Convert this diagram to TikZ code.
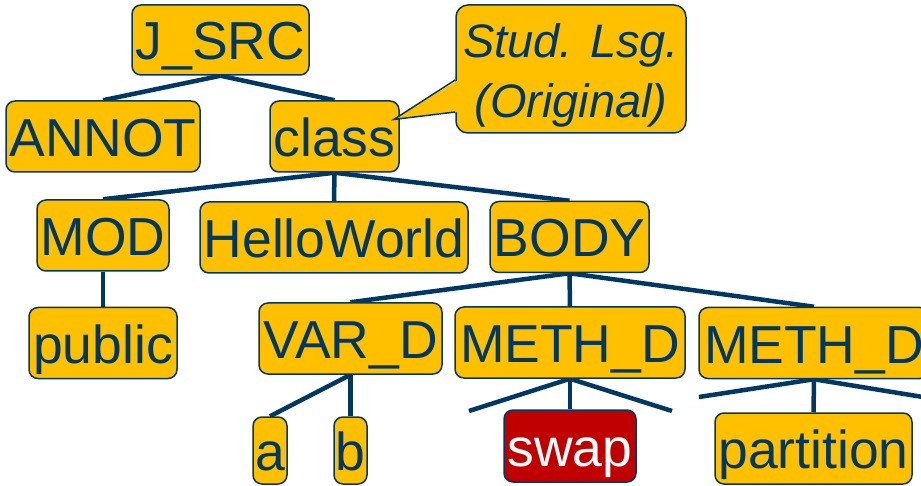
\documentclass[tikz,border=0pt]{standalone}
\usepackage{fontspec}
\setmainfont{Liberation Sans}
\usetikzlibrary{calc}
\definecolor{navy}{RGB}{0,56,101}
\definecolor{gold}{RGB}{255,192,0}
\definecolor{darkred}{RGB}{192,0,0}
\pgfdeclarelayer{background}
\pgfsetlayers{background,main}
\tikzset{
  box/.style={draw=navy, line width=1.5pt, fill=gold, rounded corners=9pt, text=navy,
    font=\fontsize{53.5}{62}\selectfont, inner xsep=2pt, inner ysep=0pt,
    text height=51pt, text depth=11pt, minimum height=71pt},
  hot/.style={box, fill=darkred, text=white},
  notebox/.style={draw=navy, line width=1.5pt, fill=gold, rounded corners=12pt, text=navy,
    font=\fontsize{47}{60}\selectfont\itshape, align=center, inner sep=0pt,
    text height=98pt, text depth=0pt,
    minimum width=230pt, minimum height=128pt},
  edge/.style={draw=navy, line width=4.5pt},
}
\begin{document}
\begin{tikzpicture}[x=1pt,y=-1pt]
\useasboundingbox (0,0) rectangle (921,486);
% nodes
\node[box, minimum width=177pt, minimum height=70pt] (jsrc) at (220.5,40) {J\_SRC};
\node[box, minimum width=194pt] (annot) at (103,136.5) {ANNOT};
\node[box, minimum width=129pt] (class) at (334.5,136.5) {class};
\node[box, minimum width=132pt] (mod) at (103,235.5) {MOD};
\node[box, minimum width=268pt] (hello) at (334,237.5) {HelloWorld};
\node[box, minimum width=159pt] (body) at (569.5,237) {BODY};
\node[box, minimum width=148pt] (public) at (103,343) {public};
\node[box, minimum width=183pt] (vard) at (350.5,338.5) {VAR\_D};
\node[box, minimum width=230pt] (meth1) at (570,342.5) {METH\_D};
\node[box, minimum width=230pt] (meth2) at (814,343) {METH\_D};
\node[box, minimum width=34pt, minimum height=67pt, inner xsep=1pt] (a) at (270,450.5) {a};
\node[box, minimum width=33pt, minimum height=67pt, inner xsep=1pt] (b) at (350.5,450.5) {b};
\node[hot, minimum width=132pt, minimum height=72pt] (swap) at (570,446) {swap};
\node[box, minimum width=197pt] (partition) at (813.5,448.5) {partition};
% callout
\node[notebox] (note) at (571,69) {Stud. Lsg.\\(Original)};
\coordinate (tip) at ($(class.east)+(-6,-17)$);
\fill[gold] ($(note.west)+(3,11)$) -- (tip) -- ($(note.west)+(3,43)$) -- cycle;
\draw[navy, line width=1.5pt, line join=miter] ($(note.west)+(0,11)$) -- (tip) -- ($(note.west)+(0,43)$);
% free ends
\coordinate (f1) at (469,411);
\coordinate (f2) at (672,411);
\coordinate (f3) at (699,397);
\coordinate (f4) at (929,398);
% edges
\begin{pgfonlayer}{background}
\draw[edge] (jsrc.south) -- (annot.north);
\draw[edge] (jsrc.south) -- (class.north);
\draw[edge] (class.south) -- (mod.north);
\draw[edge] (class.south) -- (hello.north);
\draw[edge] (class.south) -- (body.north);
\draw[edge] (mod.south) -- (public.north);
\draw[edge] (body.south) -- (vard.north);
\draw[edge] (body.south) -- (meth1.north);
\draw[edge] (body.south) -- (meth2.north);
\draw[edge] (vard.south) -- (a.north);
\draw[edge] (vard.south) -- (b.north);
\draw[edge] (meth1.south) -- (swap.north);
\draw[edge] (meth1.south) -- (f1);
\draw[edge] (meth1.south) -- (f2);
\draw[edge] (meth2.south) -- (partition.north);
\draw[edge] (meth2.south) -- (f3);
\draw[edge] (meth2.south) -- (f4);
\end{pgfonlayer}
\end{tikzpicture}
\end{document}
